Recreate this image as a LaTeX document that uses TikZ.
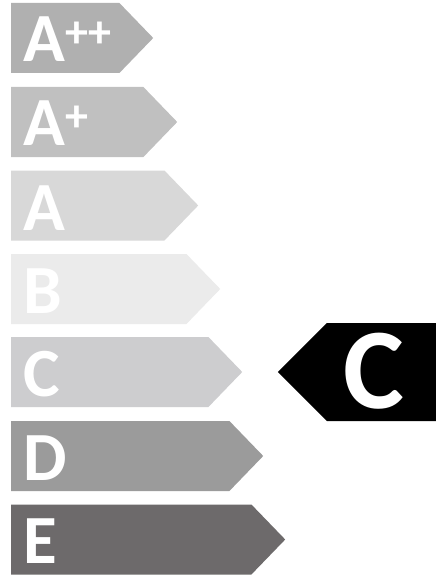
\documentclass[tikz,border=0pt]{standalone}
\usepackage{fontspec}
\setmainfont{Carlito}
\usetikzlibrary{shapes.symbols}
\definecolor{clsapp}{HTML}{B0B0B0}
\definecolor{clsap}{HTML}{C0C0C0}
\definecolor{clsa}{HTML}{D8D8D8}
\definecolor{clsb}{HTML}{EBEBEB}
\definecolor{clsc}{HTML}{CDCDCF}
\definecolor{clsd}{HTML}{9B9B9B}
\definecolor{clse}{HTML}{6D6A6B}

\begin{document}
\begin{tikzpicture}[
    x=1pt, y=-1pt,
    bar/.style={signal,signal to=east,signal pointer angle=92,draw=none,
                minimum height=70pt,inner sep=0pt,anchor=west},
    marker/.style={signal,signal to=west,signal pointer angle=90,fill=black,
                   minimum height=98pt,minimum width=158pt,inner sep=0pt,anchor=east},
    lbl/.style={anchor=base west,inner sep=0pt,text=white,text depth=0pt,
                font=\bfseries\fontsize{69}{69}\selectfont}]

  \useasboundingbox[fill=white] (0,0) rectangle (440,575);

  % rating bars
  \node[bar,fill=clsapp,minimum width=142pt] (app) at (11, 38.0) {};
  \node[bar,fill=clsap, minimum width=166pt] (ap)  at (11,122.0) {};
  \node[bar,fill=clsa,  minimum width=187pt] (a)   at (11,205.5) {};
  \node[bar,fill=clsb,  minimum width=209pt] (b)   at (11,289.0) {};
  \node[bar,fill=clsc,  minimum width=231pt] (c)   at (11,372.0) {};
  \node[bar,fill=clsd,  minimum width=252pt] (d)   at (11,456.0) {};
  \node[bar,fill=clse,  minimum width=274pt] (e)   at (11,539.5) {};

  \node[lbl] (tapp) at (23, 62) {A{\fontsize{46}{46}\selectfont\raisebox{14pt}{++}}};
  \node[lbl] (tap)  at (23,146) {A{\fontsize{46}{46}\selectfont\raisebox{14pt}{+}}};
  \node[lbl] (ta)   at (23,230) {A};
  \node[lbl] (tb)   at (23,313) {B};
  \node[lbl] (tc)   at (23,396) {C};
  \node[lbl] (td)   at (23,480) {D};
  \node[lbl] (te)   at (23,563) {E};

  % current class
  \node[marker] (cur) at (436,372) {};
  \node[lbl,font=\bfseries\fontsize{115}{115}\selectfont] (tcur) at (343,408) {C};
\end{tikzpicture}
\end{document}
